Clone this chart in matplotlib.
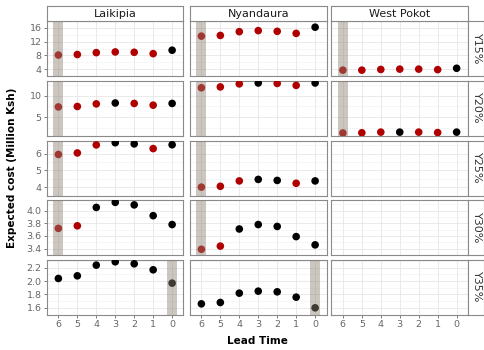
import matplotlib.pyplot as plt
import numpy as np

# lead times and facets
lead_time = [6, 5, 4, 3, 2, 1, 0]
regions = ["Laikipia", "Nyandaura", "West Pokot"]
levels = ["Y15%", "Y20%", "Y25%", "Y30%", "Y35%"]

# expected cost (Million Ksh), one list per panel (None = empty panel)
lai_y15 = [8.1, 8.25, 8.8, 9.0, 8.9, 8.5, 9.5]
lai_y20 = [7.4, 7.5, 8.1, 8.3, 8.2, 7.8, 8.2]
lai_y25 = [5.95, 6.04, 6.52, 6.65, 6.58, 6.3, 6.53]
lai_y30 = [3.72, 3.76, 4.05, 4.13, 4.09, 3.92, 3.78]
lai_y35 = [2.04, 2.08, 2.24, 2.29, 2.26, 2.17, 1.97]

nya_y15 = [13.6, 13.8, 14.9, 15.2, 15.0, 14.4, 16.2]
nya_y20 = [11.8, 12.0, 12.7, 12.9, 12.8, 12.35, 12.9]
nya_y25 = [4.0, 4.05, 4.37, 4.46, 4.4, 4.23, 4.37]
nya_y30 = [3.39, 3.44, 3.71, 3.78, 3.75, 3.59, 3.46]
nya_y35 = [1.66, 1.68, 1.82, 1.85, 1.84, 1.76, 1.60]

wp_y15 = [3.7, 3.7, 3.9, 4.0, 4.0, 3.85, 4.25]
wp_y20 = [1.4, 1.45, 1.6, 1.6, 1.6, 1.5, 1.6]

# point colour class: "r" = red, "k" = black
lai_col = [list("rrrrrrk"), list("rrrkrrk"), list("rrrkkrk"), list("rrkkkkk"), list("kkkkkkk")]
nya_col = [list("rrrrrrk"), list("rrrkrrk"), list("rrrkkrk"), list("rrkkkkk"), list("kkkkkkk")]
wp_col = [list("rrrrrrk"), list("rrrkrrk"), None, None, None]

# highlighted lead time per row
band_lead = [6, 6, 6, 6, 0]

data = {
    "Laikipia": [lai_y15, lai_y20, lai_y25, lai_y30, lai_y35],
    "Nyandaura": [nya_y15, nya_y20, nya_y25, nya_y30, nya_y35],
    "West Pokot": [wp_y15, wp_y20, None, None, None],
}
colors = {"Laikipia": lai_col, "Nyandaura": nya_col, "West Pokot": wp_col}

yticks = [[4, 8, 12, 16], [5, 10], [4, 5, 6], [3.4, 3.6, 3.8, 4.0], [1.6, 1.8, 2.0, 2.2]]
yfmt = ["{:.0f}", "{:.0f}", "{:.0f}", "{:.1f}", "{:.1f}"]

W, H = 485, 350
fig = plt.figure(figsize=(W / 100, H / 100), dpi=100)

px_left = [47, 190, 331.5]
pw = 136.5
px_top = [21, 80.5, 140.5, 200, 259.5]
ph = 55
red = "#B00000"
border = "#8a8a8a"
tickcol = "#666666"

for r, lev in enumerate(levels):
    vals = [v for reg in regions if data[reg][r] is not None for v in data[reg][r]]
    lo, hi = min(vals), max(vals)
    pad = 0.05 * (hi - lo)
    for c, reg in enumerate(regions):
        ax = fig.add_axes([px_left[c] / W, 1 - (px_top[r] + ph) / H, pw / W, ph / H])
        ax.set_xlim(6.6, -0.6)
        ax.set_ylim(lo - pad, hi + pad)
        ax.set_xticks(lead_time)
        ax.set_yticks(yticks[r])
        mids = [(a + b) / 2 for a, b in zip(yticks[r][:-1], yticks[r][1:])]
        step = yticks[r][1] - yticks[r][0]
        mids = [yticks[r][0] - step / 2] + mids + [yticks[r][-1] + step / 2]
        ax.set_yticks(mids, minor=True)
        ax.grid(True, which="major", color="#e6e6e6", lw=0.6)
        ax.grid(True, which="minor", axis="y", color="#f0f0f0", lw=0.4)
        ax.set_axisbelow(True)
        for s in ax.spines.values():
            s.set_color(border)
            s.set_linewidth(0.8)
        ax.tick_params(axis="both", which="major", length=2.5, width=0.6, color=tickcol,
                       labelsize=6.8, labelcolor=tickcol, pad=1.5)
        ax.tick_params(axis="y", which="minor", length=0)
        if c == 0:
            ax.set_yticklabels([yfmt[r].format(t) for t in yticks[r]])
        else:
            ax.tick_params(axis="y", which="major", labelleft=False, length=0)
        if r == len(levels) - 1:
            ax.set_xticklabels([str(t) for t in lead_time])
        else:
            ax.tick_params(axis="x", labelbottom=False, length=0)

        y = data[reg][r]
        if y is not None:
            cols = [red if k == "r" else "black" for k in colors[reg][r]]
            ax.scatter(lead_time, y, s=30, c=cols, edgecolors="none", zorder=3)
            b = band_lead[r]
            ax.axvspan(b - 0.27, b + 0.27, color="#8c8273", alpha=0.45, lw=0, zorder=4)

        # top strips
        if r == 0:
            sx = fig.add_axes([px_left[c] / W, 1 - 21 / H, pw / W, 15.5 / H])
            sx.set_xticks([]); sx.set_yticks([])
            for s in sx.spines.values():
                s.set_color(border); s.set_linewidth(0.8)
            sx.text(0.5, 0.45, reg, ha="center", va="center", fontsize=8, color="#1a1a1a",
                    transform=sx.transAxes)
        # right strips
        if c == len(regions) - 1:
            sy = fig.add_axes([468.5 / W, 1 - (px_top[r] + ph) / H, 16 / W, ph / H])
            sy.set_xticks([]); sy.set_yticks([])
            for s in sy.spines.values():
                s.set_color(border); s.set_linewidth(0.8)
            sy.text(0.5, 0.5, lev, ha="center", va="center", rotation=-90, fontsize=8,
                    color="#333333", transform=sy.transAxes)

fig.text(257 / W, 1 - 341 / H, "Lead Time", ha="center", va="center", fontsize=7.5,
         fontweight="bold")
fig.text(12 / W, 1 - 168 / H, "Expected cost (Million Ksh)", ha="center", va="center",
         rotation=90, fontsize=7.5, fontweight="bold")

fig.savefig("out.png", dpi=100)
